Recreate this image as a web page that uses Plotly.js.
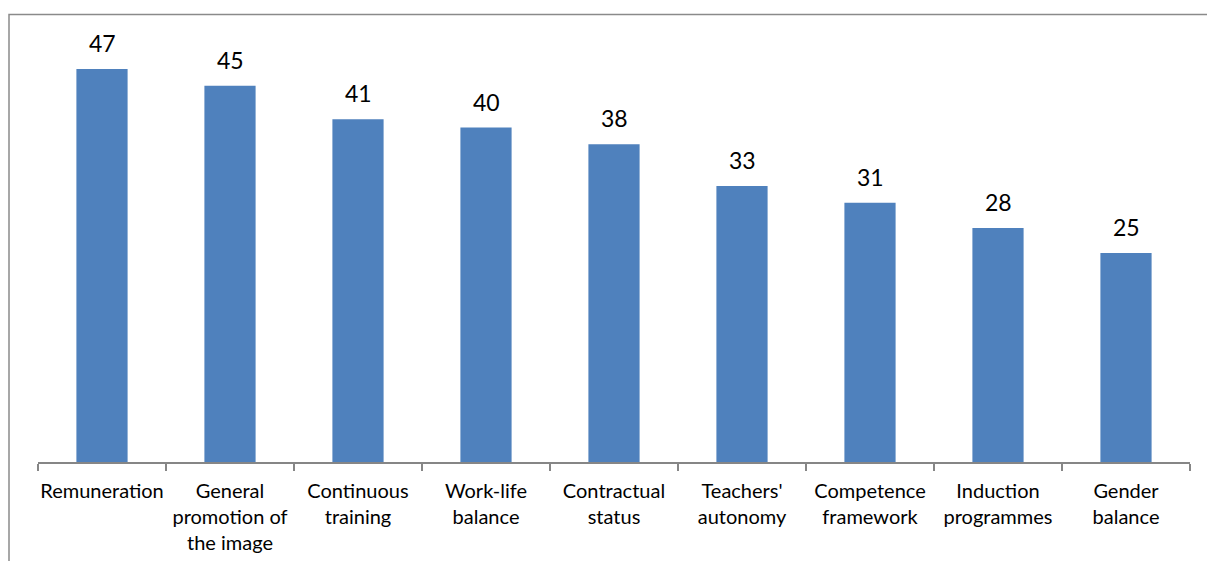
<!DOCTYPE html>
<html>
<head>
<meta charset="utf-8">
<script src="https://cdn.plot.ly/plotly-3.0.1.min.js"></script>
<style>html,body{margin:0;padding:0;background:#fff;}#chart{width:1207px;height:561px;}</style>
</head>
<body>
<div id="chart"></div>
<script>
const categories = ["Remuneration", "General<br>promotion of<br>the image", "Continuous<br>training", "Work-life<br>balance", "Contractual<br>status", "Teachers'<br>autonomy", "Competence<br>framework", "Induction<br>programmes", "Gender<br>balance"];
const values = [47, 45, 41, 40, 38, 33, 31, 28, 25];

const W = 1207, H = 561;
const L = 38, R = 17, T = 44, B = 99;
const pw = W - L - R, ph = H - T - B;
function px2x(p){ return (p - L) / pw; }
function py2y(p){ return (H - B - p) / ph; }
const FONT = 'Lato, "Open Sans", sans-serif';

const trace = {
  type: 'bar',
  x: categories,
  y: values,
  marker: {color: '#4F81BD'},
  hoverinfo: 'none'
};

const annotations = categories.map((c, i) => ({
  x: c, y: values[i], xref: 'x', yref: 'y',
  text: String(values[i]), showarrow: false,
  xanchor: 'center', yanchor: 'bottom', yshift: 10,
  font: {family: FONT, size: 23, color: '#000'}
}));

const layout = {
  width: W, height: H,
  margin: {l: L, r: R, t: T, b: B, pad: 0},
  paper_bgcolor: '#fff', plot_bgcolor: '#fff',
  showlegend: false,
  bargap: 0.6,
  font: {family: FONT, color: '#000'},
  xaxis: {
    type: 'category',
    showline: true, linecolor: '#868686', linewidth: 1.5,
    ticks: 'outside', tickson: 'boundaries', ticklen: 7, tickcolor: '#868686', tickwidth: 1.5,
    tickfont: {family: FONT, size: 20, color: '#000'},
    tickangle: 0,
    ticklabelstandoff: 10,
    showgrid: false, zeroline: false, fixedrange: true
  },
  yaxis: {
    range: [0, 50], visible: false, showgrid: false, zeroline: false, fixedrange: true
  },
  annotations: annotations,
  shapes: [{
    type: 'rect', xref: 'paper', yref: 'paper',
    x0: px2x(9), x1: px2x(1240), y0: py2y(600), y1: py2y(14.5),
    line: {color: '#8a8a8a', width: 1.5}, fillcolor: 'rgba(0,0,0,0)', layer: 'below'
  }]
};

Plotly.newPlot('chart', [trace], layout, {displayModeBar: false, staticPlot: true});
</script>
</body>
</html>
